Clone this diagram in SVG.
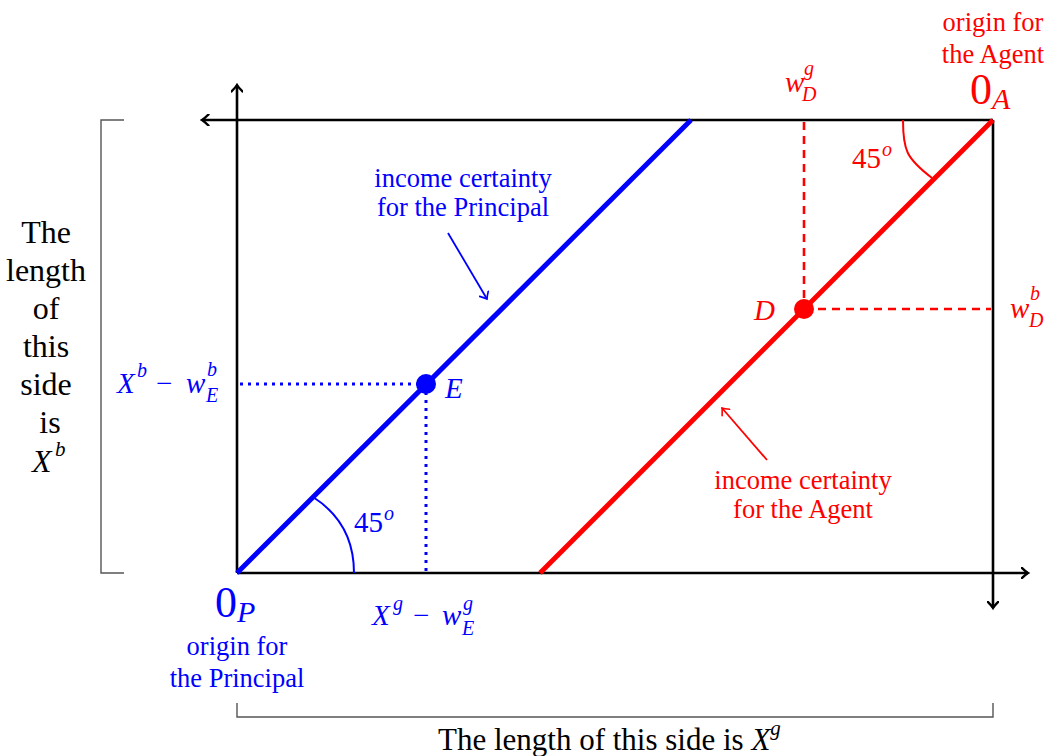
<svg xmlns="http://www.w3.org/2000/svg" width="1051" height="756" viewBox="0 0 1051 756">
<style>
text{font-family:"Liberation Serif","Times New Roman",serif;}
.it{font-style:italic;}
.blue{fill:#0000ff;}
.red{fill:#ff0000;}
.blk{fill:#000;}
.lbl{font-size:26.5px;}
.axis{stroke:#000;stroke-width:2.6;fill:none;}
.br{stroke:#555;stroke-width:1.4;fill:none;}
</style>
<defs>
<marker id="ah" viewBox="-6 -6 10 12" markerWidth="10" markerHeight="12" refX="1.5" refY="0" orient="auto" markerUnits="userSpaceOnUse">
<path d="M-5,-5.5 Q-1,-1.5 1.5,0 Q-1,1.5 -5,5.5" fill="none" stroke="#000" stroke-width="2.4" stroke-linecap="round"/>
</marker>
<marker id="ahb" viewBox="-6 -6 10 12" markerWidth="10" markerHeight="12" refX="1" refY="0" orient="auto" markerUnits="userSpaceOnUse">
<path d="M-5,-5 Q-1,-1.3 1,0 Q-1,1.3 -5,5" fill="none" stroke="#0000ff" stroke-width="1.6" stroke-linecap="round"/>
</marker>
<marker id="ahr" viewBox="-6 -6 10 12" markerWidth="10" markerHeight="12" refX="1" refY="0" orient="auto" markerUnits="userSpaceOnUse">
<path d="M-5,-5 Q-1,-1.3 1,0 Q-1,1.3 -5,5" fill="none" stroke="#ff0000" stroke-width="1.6" stroke-linecap="round"/>
</marker>
</defs>

<g id="brackets">
<path class="br" d="M124,120 H101 V573 H124"/>
<path class="br" d="M237,703 V717 H993 V703"/>
</g>

<g id="connectors">
<line class="axis" x1="237" y1="573" x2="237" y2="85" marker-end="url(#ah)"/>
<line class="axis" x1="993" y1="120" x2="202" y2="120" marker-end="url(#ah)"/>
<line class="axis" x1="237" y1="573" x2="1028" y2="573" marker-end="url(#ah)"/>
<line class="axis" x1="993" y1="120" x2="993" y2="608" marker-end="url(#ah)"/>
<line x1="237" y1="573" x2="691" y2="120" stroke="#0000ff" stroke-width="5"/>
<line x1="540" y1="573" x2="993" y2="120" stroke="#ff0000" stroke-width="5"/>
<line x1="240" y1="384" x2="426" y2="384" stroke="#0000ff" stroke-width="3" stroke-dasharray="3,5"/>
<line x1="426" y1="384" x2="426" y2="571" stroke="#0000ff" stroke-width="3" stroke-dasharray="3,5"/>
<line x1="804" y1="122" x2="804" y2="309" stroke="#ff0000" stroke-width="2.6" stroke-dasharray="8,6"/>
<line x1="804" y1="309" x2="991" y2="309" stroke="#ff0000" stroke-width="2.6" stroke-dasharray="8,6"/>
<path d="M313,497 C338,513 354,538 354,573" fill="none" stroke="#0000ff" stroke-width="2"/>
<path d="M903,120 C903,150 906,158 932,178" fill="none" stroke="#ff0000" stroke-width="2"/>
<line x1="448" y1="233" x2="487" y2="299" stroke="#0000ff" stroke-width="1.8" marker-end="url(#ahb)"/>
<line x1="767" y1="460" x2="722" y2="408" stroke="#ff0000" stroke-width="1.8" marker-end="url(#ahr)"/>
</g>

<g id="nodeE">
<circle cx="426" cy="384" r="10" fill="#0000ff"/>
<text class="it blue" x="445" y="398" font-size="29">E</text>
</g>

<g id="nodeD">
<circle cx="804" cy="309" r="10" fill="#ff0000"/>
<text class="it red" x="754" y="320" font-size="29">D</text>
</g>

<g id="originP">
<text class="blue" x="215" y="617" font-size="44">0</text>
<text class="it blue" x="237" y="622" font-size="30">P</text>
<text class="blue lbl" x="237" y="655" text-anchor="middle">origin for</text>
<text class="blue lbl" x="237" y="687" text-anchor="middle">the Principal</text>
</g>

<g id="originA">
<text class="red" x="970" y="104" font-size="44">0</text>
<text class="it red" x="992" y="109" font-size="30">A</text>
<text class="red lbl" x="993" y="31" text-anchor="middle">origin for</text>
<text class="red lbl" x="993" y="63" text-anchor="middle">the Agent</text>
</g>

<g id="labelPrincipalLine">
<text class="blue lbl" x="463" y="187" text-anchor="middle">income certainty</text>
<text class="blue lbl" x="463" y="216" text-anchor="middle">for the Principal</text>
</g>

<g id="labelAgentLine">
<text class="red lbl" x="803" y="489" text-anchor="middle">income certainty</text>
<text class="red lbl" x="803" y="518" text-anchor="middle">for the Agent</text>
</g>

<g id="angleP">
<text class="blue" x="354" y="532" font-size="29">45</text>
<text class="it blue" x="384" y="520" font-size="20">o</text>
</g>

<g id="angleA">
<text class="red" x="852" y="168" font-size="29">45</text>
<text class="it red" x="882" y="156" font-size="20">o</text>
</g>

<g id="wDg">
<text class="it red" x="785" y="92" font-size="29">w</text>
<text class="it red" x="804" y="75" font-size="20">g</text>
<text class="it red" x="802" y="101" font-size="20">D</text>
</g>

<g id="wDb">
<text class="it red" x="1010" y="318" font-size="29">w</text>
<text class="it red" x="1030" y="300" font-size="20">b</text>
<text class="it red" x="1029" y="327" font-size="20">D</text>
</g>

<g id="XbminuswEb">
<text class="it blue" x="117" y="393" font-size="29">X</text>
<text class="it blue" x="137" y="377" font-size="20">b</text>
<text class="blue" x="156" y="393" font-size="29">−</text>
<text class="it blue" x="186" y="393" font-size="29">w</text>
<text class="it blue" x="207" y="376" font-size="20">b</text>
<text class="it blue" x="206" y="402" font-size="20">E</text>
</g>

<g id="XgminuswEg">
<text class="it blue" x="372" y="625" font-size="29">X</text>
<text class="it blue" x="393" y="610" font-size="20">g</text>
<text class="blue" x="413" y="625" font-size="29">−</text>
<text class="it blue" x="442" y="625" font-size="29">w</text>
<text class="it blue" x="463" y="610" font-size="20">g</text>
<text class="it blue" x="462" y="635" font-size="20">E</text>
</g>

<g id="sideB">
<text class="blk" font-size="32" text-anchor="middle">
<tspan x="50" y="243">The</tspan>
<tspan x="50" y="281">length</tspan>
<tspan x="50" y="319">of</tspan>
<tspan x="50" y="357">this</tspan>
<tspan x="50" y="395">side</tspan>
<tspan x="50" y="433">is</tspan>
</text>
<text class="it blk" x="32" y="472" font-size="32">X</text>
<text class="it blk" x="55" y="456" font-size="21">b</text>
</g>

<g id="sideG">
<text class="blk" x="438" y="750" font-size="31">The length of this side is <tspan class="it">X</tspan><tspan class="it" font-size="21" dy="-15">g</tspan></text>
</g>
</svg>
